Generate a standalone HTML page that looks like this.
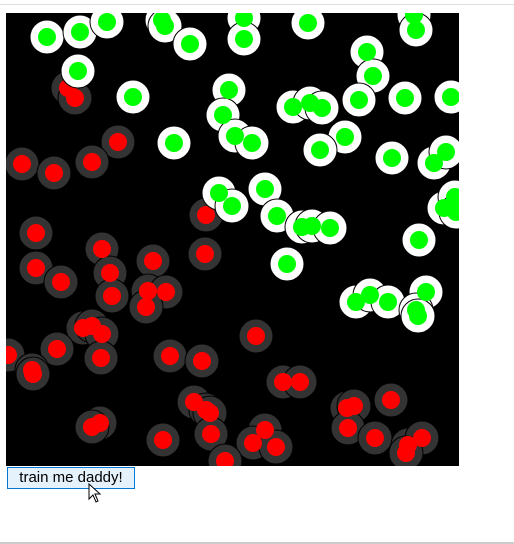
<!DOCTYPE html>
<html><head><meta charset="utf-8"><style>
html,body{margin:0;padding:0;width:514px;height:544px;overflow:hidden;background:#fff;font-family:"Liberation Sans",sans-serif}
#topline{position:absolute;left:0;top:4px;width:514px;height:1px;background:#ddd}
#botline{position:absolute;left:0;top:542px;width:514px;height:2px;background:#ccc}
#chart{position:absolute;left:6px;top:13px}
#btn{position:absolute;left:7px;top:467px;width:128px;height:22px;box-sizing:border-box;border:1px solid #0078d7;background:#e5f1fb;font-family:"Liberation Sans",sans-serif;font-size:15px;color:#000;text-align:center;line-height:20px;padding:0}
#cursor{position:absolute;left:88px;top:483px}
</style></head><body>
<div id="topline"></div>
<svg id="chart" width="453" height="453"></svg>
<button id="btn">train me daddy!</button>
<svg id="cursor" width="16" height="22"><path d="M1 1 L1 16 L5 12 L8 19 L10 18 L7 11 L12 11 Z" fill="#fff" stroke="#000" stroke-width="1"/></svg>
<div id="botline"></div>
<script>
const greenX=[47,80,107,162,165,190,244,244,308,414,416,367,373,359,405,451,78,133,229,223,235,252,293,310,322,345,320,392,434,446,174,265,219,232,277,302,312,330,444,455,456,419,287,356,370,388,426,416,418];
const greenY=[37,32,22,20,26,44,18,39,23,15,30,52,76,100,98,97,71,97,90,115,136,143,107,103,108,137,150,158,163,152,143,189,193,206,216,227,226,228,208,197,212,240,264,302,295,302,292,310,316];
const redX=[68,75,118,92,22,54,206,36,36,61,102,110,153,112,148,166,146,205,256,83,92,102,101,8,57,32,33,170,202,283,300,194,206,210,347,354,391,100,92,163,211,265,253,276,348,375,408,422,406,225];
const redY=[88,98,142,162,164,173,215,233,268,282,249,273,261,296,291,292,307,254,336,328,326,334,358,355,349,370,374,356,361,382,382,402,410,413,408,406,400,423,427,440,434,430,443,447,428,438,445,438,453,461];
const ox=6,oy=13;
const sx=v=>v-ox, sy=v=>v-oy;
const svg=document.getElementById('chart');
const NS='http://www.w3.org/2000/svg';
const bg=document.createElementNS(NS,'rect');


bg.setAttribute('width',453);bg.setAttribute('height',453);bg.setAttribute('fill','#000');
svg.appendChild(bg);
function halos(xs,ys,outer,name){
  for(let i=0;i<xs.length;i++){
    const o=document.createElementNS(NS,'circle');
    
    
    o.setAttribute('cx',sx(xs[i]));o.setAttribute('cy',sy(ys[i]));o.setAttribute('r',17);
    o.setAttribute('fill',outer);o.setAttribute('stroke','#000');o.setAttribute('stroke-width',1);
    svg.appendChild(o);
  }
}
function dots(xs,ys,inner,name){
  for(let i=0;i<xs.length;i++){
    const c=document.createElementNS(NS,'circle');
    
    
    c.setAttribute('cx',sx(xs[i]));c.setAttribute('cy',sy(ys[i]));c.setAttribute('r',9);
    c.setAttribute('fill',inner);
    svg.appendChild(c);
  }
}
halos(redX,redY,'#333','red');
dots(redX,redY,'#ff0000','red');
halos(greenX,greenY,'#fff','green');
dots(greenX,greenY,'#00ff00','green');
</script>
</body></html>
